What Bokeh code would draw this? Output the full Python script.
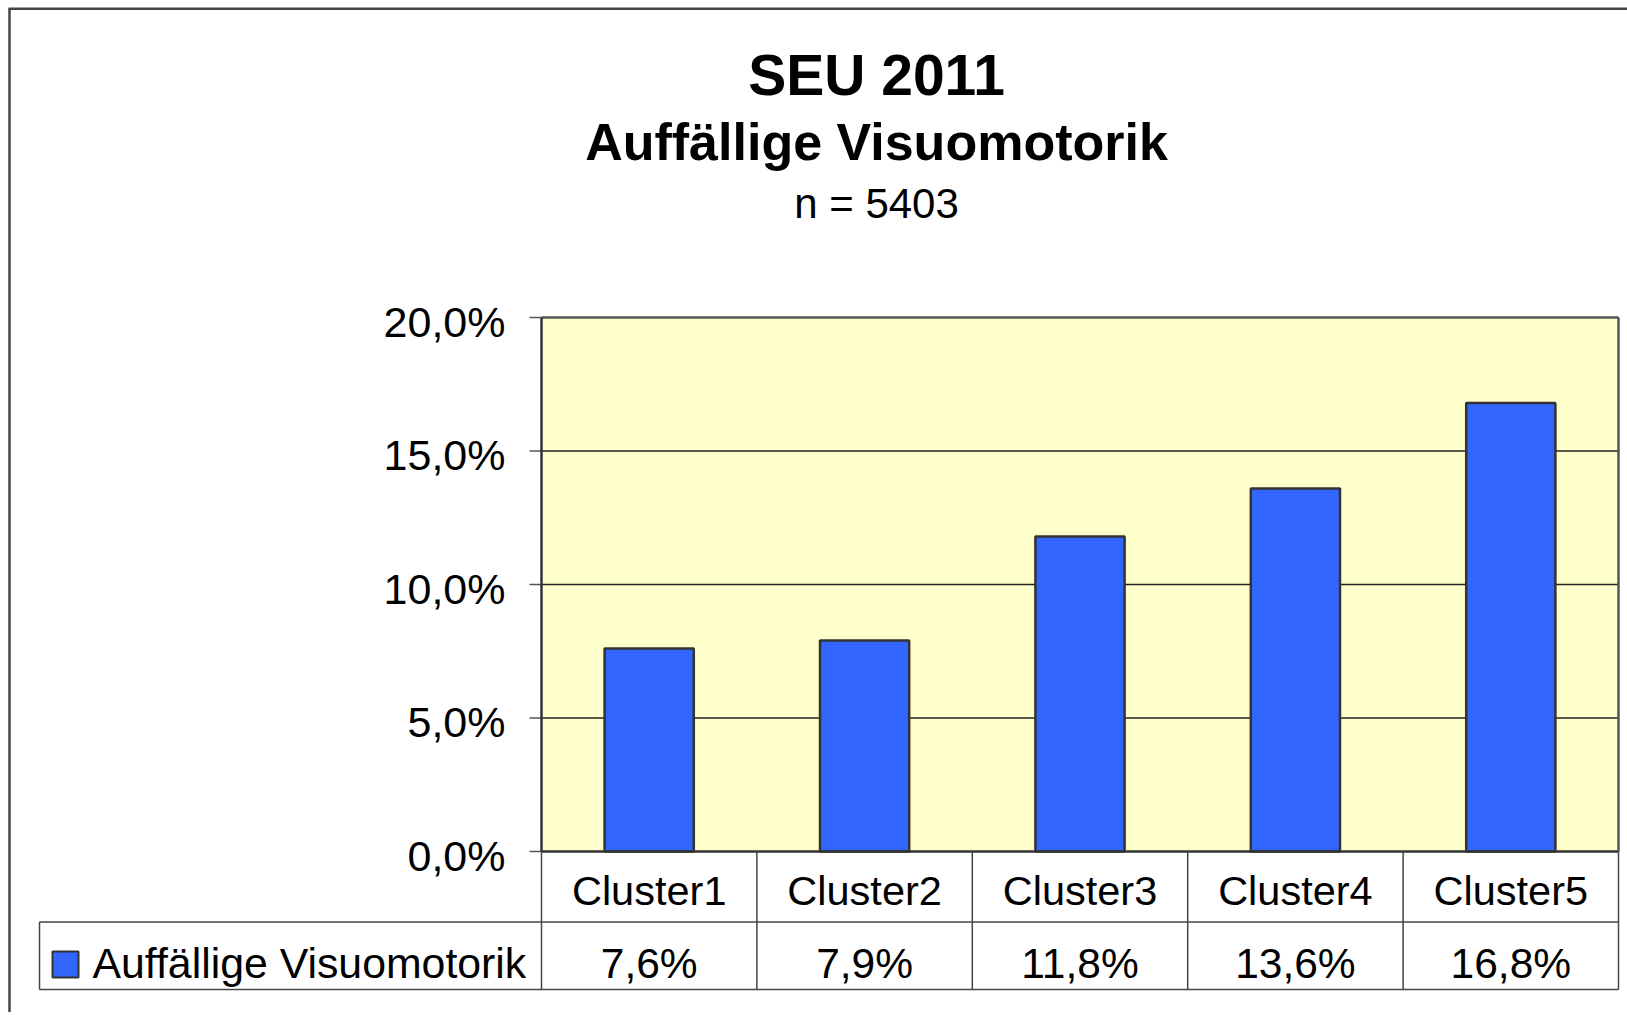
from bokeh.plotting import figure
from bokeh.models import Range1d, ColumnDataSource
from bokeh.core.properties import value
from bokeh.embed import file_html
from bokeh.resources import INLINE

# ---------------- data ----------------
title = "SEU 2011"
subtitle = "Auffällige Visuomotorik"
sample = "n = 5403"
categories = ["Cluster1", "Cluster2", "Cluster3", "Cluster4", "Cluster5"]
series_name = "Auffällige Visuomotorik"
values = [7.6, 7.9, 11.8, 13.6, 16.8]
value_labels = ["7,6%", "7,9%", "11,8%", "13,6%", "16,8%"]
y_ticks = [0, 5, 10, 15, 20]
y_tick_labels = ["0,0%", "5,0%", "10,0%", "15,0%", "20,0%"]

# ---------------- layout (page pixels) ----------------
W, H = 1627, 1012
M = 0
PX0, PX1 = 541, 1618      # plot area left / right
PY0, PYT = 851, 317       # y of 0 and of top tick
n = len(categories)
ux = (PX1 - PX0) / n
uy = (PY0 - PYT) / y_ticks[-1]
BFIX = 0.37               # baseline correction (fraction of font size)


def dx(px):
    return (px - PX0) / ux


def dy(py):
    return (PY0 - py) / uy


def by(py, size):
    """data y for a text whose baseline should sit at page y py"""
    return dy(py - BFIX * size)


FONT = value("Liberation Sans")

p = figure(width=W, height=H,
           x_range=Range1d(dx(M), dx(M + W)),
           y_range=Range1d(dy(M + H), dy(M)),
           min_border=0, toolbar_location=None, tools="",
           output_backend="svg",
           x_axis_location=None, y_axis_location=None,
           outline_line_color=None,
           background_fill_color="white", border_fill_color="white")
p.grid.grid_line_color = None

top = y_ticks[-1]

# plot area background
p.quad(left=[0], right=[n], bottom=[0], top=[top],
       fill_color="#FFFFCC", line_color=None)

# gridlines
inner = y_ticks[1:-1]
p.segment(x0=[0] * len(inner), x1=[n] * len(inner), y0=inner, y1=inner,
          line_color="#222222", line_width=1.3)

# tick marks
p.segment(x0=[dx(529)] * len(y_ticks), x1=[0] * len(y_ticks),
          y0=y_ticks, y1=y_ticks, line_color="#555555", line_width=1.5)

# tick labels
TS = 43
p.text(x=[dx(505)] * len(y_ticks), y=[t - (20 - BFIX * TS) / uy for t in y_ticks],
       text=y_tick_labels, text_font=FONT, text_font_size=f"{TS}px",
       text_align="right", text_baseline="alphabetic", text_color="black")

# bars
xc = [i + 0.5 for i in range(n)]
src = ColumnDataSource(dict(x=xc, top=values, cat=categories, lab=value_labels))
p.vbar(x="x", top="top", bottom=0, width=0.414, source=src,
       fill_color="#3366FF", line_color="#333333", line_width=2.5)

# plot area borders
p.segment(x0=[0, n], x1=[n, n], y0=[top, 0], y1=[top, top],
          line_color="#555555", line_width=2.5)
p.segment(x0=[0, 0], x1=[0, n], y0=[0, 0], y1=[top, 0],
          line_color="#333333", line_width=2.5)

# data table
row1_bottom = dy(921.5)
row2_bottom = dy(989)
bounds = list(range(n + 1))
p.segment(x0=bounds, x1=bounds, y0=[0] * len(bounds), y1=[row2_bottom] * len(bounds),
          line_color="#444444", line_width=1.5)
p.segment(x0=[dx(39), dx(39), dx(39)], x1=[n, n, dx(39)],
          y0=[row1_bottom, row2_bottom, row1_bottom],
          y1=[row1_bottom, row2_bottom, row2_bottom],
          line_color="#444444", line_width=1.5)

CS, VS = 41.5, 42.5
p.text(x="x", y=by(905, CS), text="cat", source=src, text_font=FONT,
       text_font_size=f"{CS}px", text_align="center", text_baseline="alphabetic",
       text_color="black")
p.text(x="x", y=by(979, VS), text="lab", source=src, text_font=FONT,
       text_font_size=f"{VS}px", text_align="center", text_baseline="alphabetic",
       text_color="black")

# legend key
LS = 42.8
p.scatter(x=[dx(65)], y=[dy(964)], marker="square", size=26,
          fill_color="#3366FF", line_color="#333333", line_width=2)
p.text(x=[dx(92)], y=[by(978, LS)], text=[series_name], text_font=FONT,
       text_font_size=f"{LS}px", text_align="left", text_baseline="alphabetic",
       text_color="black")

# titles
T1, T2, T3 = 57, 52, 42
p.text(x=[dx(876)], y=[by(96, T1)], text=[title], text_font=FONT,
       text_font_size=f"{T1}px", text_font_style="bold", text_align="center",
       text_baseline="alphabetic", text_color="black")
p.text(x=[dx(876)], y=[by(161, T2)], text=[subtitle], text_font=FONT,
       text_font_size=f"{T2}px", text_font_style="bold", text_align="center",
       text_baseline="alphabetic", text_color="black")
p.text(x=[dx(876)], y=[by(219, T3)], text=[sample], text_font=FONT,
       text_font_size=f"{T3}px", text_align="center",
       text_baseline="alphabetic", text_color="black")

# outer chart frame (top and left edges visible)
p.segment(x0=[dx(8), dx(9)], x1=[dx(M + W), dx(9)],
          y0=[dy(8.3), dy(8)], y1=[dy(8.3), dy(M + H)],
          line_color="#444444", line_width=2.5)

open("out.html", "w").write(file_html(p, INLINE))
